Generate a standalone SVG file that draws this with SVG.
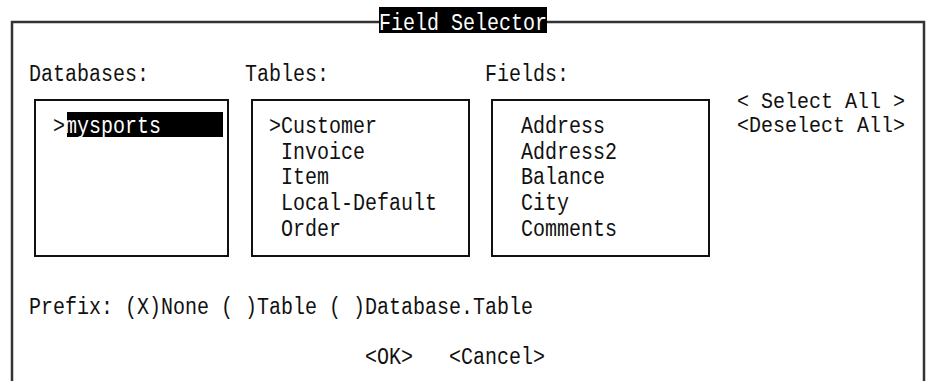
<svg xmlns="http://www.w3.org/2000/svg" width="927" height="381" viewBox="0 0 927 381">
<style>
text{font-family:"Liberation Mono","DejaVu Sans Mono",monospace;font-size:23px;fill:#111}
.inv{fill:#fff}
.sel{font-size:22px}
.box{fill:none;stroke:#111;stroke-width:2}
.frame{fill:none;stroke:#333;stroke-width:2.5}
</style>
<rect width="927" height="381" fill="#fff"/>
<g id="frame">
<path class="frame" d="M12,381 V22 H379 M547,22 H924 V381"/>
<rect x="379" y="7" width="168" height="26" fill="#000"/>
<text class="inv" x="379" y="30" font-size="30" textLength="168" lengthAdjust="spacingAndGlyphs">Field Selector</text>
</g>
<g id="databases">
<text x="29" y="81" textLength="120" lengthAdjust="spacingAndGlyphs">Databases:</text>
<rect class="box" x="35" y="100" width="193" height="156"/>
<text x="53" y="133" textLength="12" lengthAdjust="spacingAndGlyphs">&gt;</text>
<rect x="67" y="112" width="156" height="25" fill="#000"/>
<text class="inv" x="65" y="133" textLength="96" lengthAdjust="spacingAndGlyphs">mysports</text>
</g>
<g id="tables">
<text x="245" y="81" textLength="84" lengthAdjust="spacingAndGlyphs">Tables:</text>
<rect class="box" x="252" y="100" width="217" height="156"/>
<text x="269" y="133" textLength="108" lengthAdjust="spacingAndGlyphs">&gt;Customer</text>
<text x="281" y="159" textLength="84" lengthAdjust="spacingAndGlyphs">Invoice</text>
<text x="281" y="184" textLength="48" lengthAdjust="spacingAndGlyphs">Item</text>
<text x="281" y="210" textLength="156" lengthAdjust="spacingAndGlyphs">Local-Default</text>
<text x="281" y="236" textLength="60" lengthAdjust="spacingAndGlyphs">Order</text>
</g>
<g id="fields">
<text x="485" y="81" textLength="84" lengthAdjust="spacingAndGlyphs">Fields:</text>
<rect class="box" x="492" y="100" width="217" height="156"/>
<text x="521" y="133" textLength="84" lengthAdjust="spacingAndGlyphs">Address</text>
<text x="521" y="159" textLength="96" lengthAdjust="spacingAndGlyphs">Address2</text>
<text x="521" y="184" textLength="84" lengthAdjust="spacingAndGlyphs">Balance</text>
<text x="521" y="210" textLength="48" lengthAdjust="spacingAndGlyphs">City</text>
<text x="521" y="236" textLength="96" lengthAdjust="spacingAndGlyphs">Comments</text>
</g>
<g id="select-buttons">
<text class="sel" x="737" y="108" textLength="168" lengthAdjust="spacingAndGlyphs" xml:space="preserve">&lt; Select All &gt;</text>
<text class="sel" x="737" y="132" textLength="168" lengthAdjust="spacingAndGlyphs">&lt;Deselect All&gt;</text>
</g>
<g id="prefix">
<text x="29" y="314" textLength="504" lengthAdjust="spacingAndGlyphs" xml:space="preserve">Prefix: (X)None ( )Table ( )Database.Table</text>
</g>
<g id="ok-cancel">
<text x="365" y="364" textLength="48" lengthAdjust="spacingAndGlyphs">&lt;OK&gt;</text>
<text x="449" y="364" textLength="96" lengthAdjust="spacingAndGlyphs">&lt;Cancel&gt;</text>
</g>
</svg>
